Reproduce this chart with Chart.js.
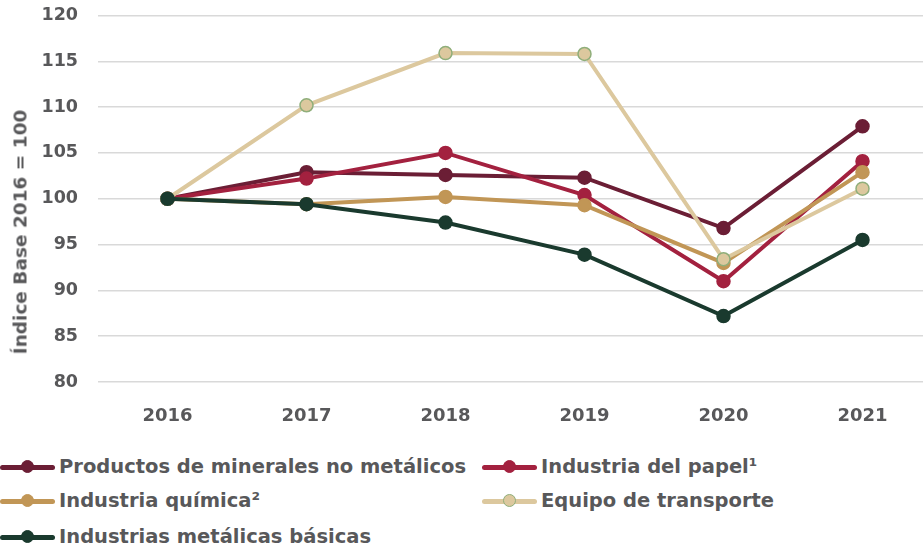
<!DOCTYPE html>
<html>
<head>
<meta charset="utf-8">
<script src="https://cdn.jsdelivr.net/npm/chart.js@4"></script>
<style>
    body { margin: 0; width: 923px; height: 548px; overflow: hidden; background: #fff; font-family: "DejaVu Sans", sans-serif; position: relative; }
    #wrap { position: absolute; left: 0; top: -15px; width: 940px; height: 445px; }
    #ytitle { position: absolute; left: 20px; top: 232px; transform: translate(-50%, -50%) rotate(-90deg); white-space: nowrap;
        font-weight: bold; font-size: 18.5px; color: #58585a; }
    #legend { position: absolute; left: 0; top: 455px; width: 923px; }
    .item { position: absolute; display: flex; align-items: center; font-weight: bold; font-size: 19.5px; color: #58585a; white-space: nowrap; }
    .sw { position: relative; width: 55px; height: 14px; margin-right: 4px; }
    .sw .ln { position: absolute; left: 0; right: 0; top: 5px; height: 5px; border-radius: 3px; }
    .sw .dt { position: absolute; left: 21px; top: 0; width: 13px; height: 13px; border-radius: 50%; box-sizing: border-box; }
</style>
</head>
<body>
<div id="wrap"><canvas id="chart"></canvas></div>
<div id="ytitle">Índice Base 2016 = 100</div>
<div id="legend"></div>
<script>
// Datos del gráfico
const years = ['2016', '2017', '2018', '2019', '2020', '2021'];
const minerales = [100, 102.9, 102.6, 102.3, 96.8, 107.9];
const papel = [100, 102.2, 105.0, 100.4, 91.0, 104.1];
const quimica = [100, 99.4, 100.2, 99.3, 93.0, 102.9];
const transporte = [100, 110.2, 115.9, 115.8, 93.4, 101.1];
const metalicas = [100, 99.4, 97.4, 93.9, 87.2, 95.5];

const series = [
    {label: 'Productos de minerales no metálicos', data: minerales, color: '#6b1e35', point: '#6b1e35'},
    {label: 'Industria del papel¹', data: papel, color: '#a3213f', point: '#a3213f'},
    {label: 'Industria química²', data: quimica, color: '#c19656', point: '#c19656'},
    {label: 'Equipo de transporte', data: transporte, color: '#dcc89e', point: '#8fae7a'},
    {label: 'Industrias metálicas básicas', data: metalicas, color: '#1a3a2e', point: '#1a3a2e'}
];

// legend positions (2 columns)
const legendPos = [[0, 0], [482, 0], [0, 34], [482, 34], [0, 70]];
let legend = document.getElementById('legend');
series.forEach(function (s, i) {
    let item = document.createElement('div');
    item.className = 'item';
    item.style.left = legendPos[i][0] + 'px';
    item.style.top = legendPos[i][1] + 'px';
    item.innerHTML = '<div class="sw"><div class="ln" style="background:' + s.color + '"></div>' +
        '<div class="dt" style="background:' + s.color + ';border:1.5px solid ' + s.point + '"></div></div>' + s.label;
    legend.appendChild(item);
});

// first dataset is drawn on top, so reverse
let datasets = series.slice().reverse().map(function (s) {
    return {
        label: s.label,
        data: s.data,
        borderColor: s.color,
        backgroundColor: s.color,
        pointBackgroundColor: s.color,
        pointBorderColor: s.point,
        pointBorderWidth: 1.5,
        pointRadius: 6.5,
        borderWidth: 4,
        tension: 0
    };
});

let ctx = document.getElementById('chart').getContext('2d');
new Chart(ctx, {
    type: 'line',
    data: {labels: years, datasets: datasets},
    options: {
        responsive: true,
        maintainAspectRatio: false,
        animation: false,
        layout: {padding: 0},
        plugins: {legend: {display: false}, tooltip: {enabled: false}},
        scales: {
            x: {
                offset: true,
                grid: {display: false},
                border: {display: false},
                ticks: {color: '#58585a', font: {family: 'DejaVu Sans', size: 18, weight: 'bold'}, padding: 16},
                afterFit: function (s) { s.height = 48; }
            },
            y: {
                min: 80,
                max: 120,
                ticks: {stepSize: 5, color: '#58585a', font: {family: 'DejaVu Sans', size: 17.5, weight: 'bold'}, padding: 20},
                grid: {color: '#d9d9d9', lineWidth: 1.5, drawTicks: false},
                border: {display: false},
                afterFit: function (s) { s.width = 98; }
            }
        }
    }
});
</script>
</body>
</html>
